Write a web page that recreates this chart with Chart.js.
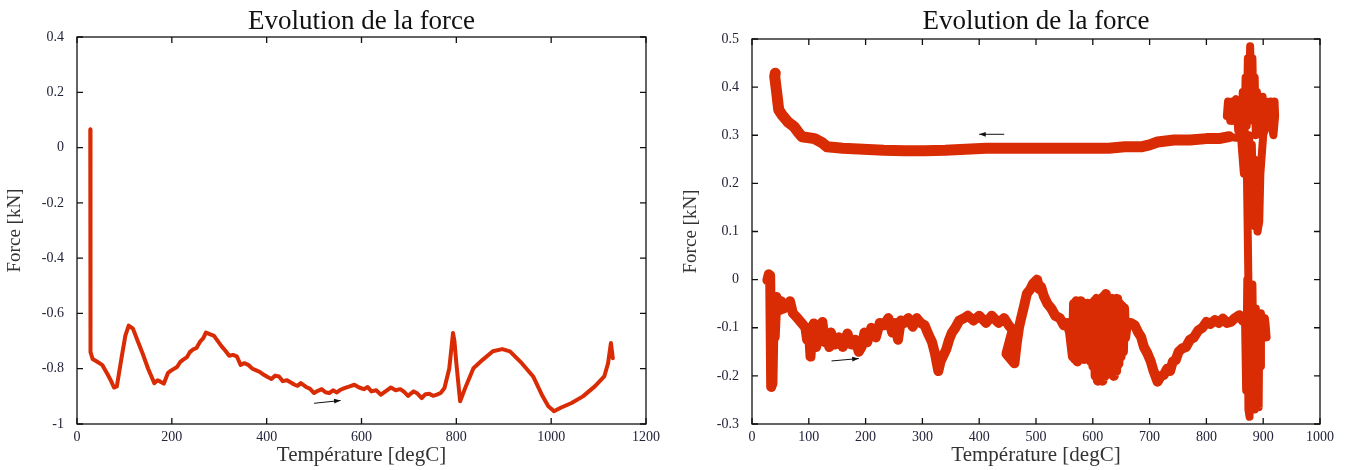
<!DOCTYPE html>
<html>
<head>
<meta charset="utf-8">
<script src="https://cdn.jsdelivr.net/npm/chart.js@4/dist/chart.umd.min.js"></script>
<style>
  html, body { margin: 0; padding: 0; background: #fff; }
  body { width: 1346px; height: 470px; position: relative; overflow: hidden; }
  canvas { position: absolute; top: 0; }
  #chart-left { left: 0; }
  #chart-right { left: 673px; }
</style>
</head>
<body>
<canvas id="chart-left" width="673" height="470"></canvas>
<canvas id="chart-right" width="673" height="470"></canvas>
<script>
// ── Data (temperature degC, force kN) ──
const TITLE = 'Evolution de la force';
const X_TITLE = 'Température [degC]';
const Y_TITLE = 'Force [kN]';

// left: heating run
const leftCurve = [
  [28, 0.065], [28, -0.70], [29, -0.74], [33, -0.765], [41, -0.773], [53, -0.786],
  [65, -0.822], [72, -0.845], [78, -0.868], [84, -0.864], [94, -0.76], [102, -0.68],
  [109, -0.644], [118, -0.655], [128, -0.70], [138, -0.743], [150, -0.80], [163, -0.852],
  [170, -0.842], [175, -0.846], [183, -0.854], [192, -0.815], [199, -0.806], [211, -0.794],
  [218, -0.775], [224, -0.767], [232, -0.758], [238, -0.74], [244, -0.731], [252, -0.725],
  [260, -0.701], [266, -0.69], [272, -0.669], [280, -0.675], [289, -0.681], [297, -0.70],
  [305, -0.719], [313, -0.735], [321, -0.753], [329, -0.75], [337, -0.755], [345, -0.786],
  [353, -0.78], [361, -0.786], [370, -0.80], [378, -0.806], [386, -0.812], [394, -0.822],
  [402, -0.83], [410, -0.837], [418, -0.825], [426, -0.828], [434, -0.845], [443, -0.842],
  [451, -0.85], [459, -0.858], [465, -0.862], [472, -0.852], [483, -0.866], [491, -0.872],
  [500, -0.888], [508, -0.88], [516, -0.874], [524, -0.885], [532, -0.888], [540, -0.878],
  [548, -0.886], [556, -0.876], [564, -0.870], [575, -0.864], [585, -0.858], [595, -0.868],
  [605, -0.874], [613, -0.866], [621, -0.882], [631, -0.878], [641, -0.894], [652, -0.88],
  [662, -0.868], [672, -0.878], [682, -0.874], [690, -0.884], [698, -0.898], [710, -0.882],
  [718, -0.89], [727, -0.906], [735, -0.892], [743, -0.891], [751, -0.898], [759, -0.894],
  [767, -0.888], [775, -0.870], [785, -0.80], [790, -0.72], [793, -0.671], [796, -0.70],
  [800, -0.78], [808, -0.918], [820, -0.864], [836, -0.798], [856, -0.767], [877, -0.737],
  [897, -0.729], [913, -0.737], [938, -0.780], [962, -0.828], [982, -0.900], [994, -0.936],
  [1006, -0.954], [1019, -0.942], [1043, -0.924], [1067, -0.900], [1092, -0.864], [1112, -0.828],
  [1120, -0.780], [1126, -0.707], [1130, -0.762]
];
const leftArrow = [[500, -0.925], [556, -0.915]];

// right: heating branch (lower)
const rightHeating = [
  [27, -0.001], [29.5, 0.011], [32, 0.009], [33.8, -0.223], [36, -0.216], [38, -0.077],
  [40, -0.119], [43, -0.036], [49, -0.063], [52, -0.045], [56, -0.06], [63, -0.055], [67, -0.045],
  [72, -0.07], [78, -0.077], [88, -0.091], [94, -0.10], [97, -0.125], [100, -0.10], [103, -0.16],
  [106, -0.10], [109, -0.091], [113, -0.14], [117, -0.10], [120, -0.12], [124, -0.088],
  [128, -0.13], [132, -0.115], [136, -0.14], [139, -0.11], [146, -0.135], [153, -0.12],
  [160, -0.14], [168, -0.112], [175, -0.135], [182, -0.125], [188, -0.15], [193, -0.14],
  [198, -0.11], [203, -0.13], [210, -0.10], [218, -0.12], [225, -0.09], [232, -0.095],
  [240, -0.08], [247, -0.11], [252, -0.09], [257, -0.125], [262, -0.085], [268, -0.09],
  [275, -0.08], [283, -0.098], [290, -0.08], [297, -0.09], [304, -0.095], [311, -0.115],
  [317, -0.13], [322, -0.153], [328, -0.19], [332, -0.17], [336, -0.16], [342, -0.145],
  [347, -0.125], [352, -0.11], [358, -0.10], [365, -0.085], [372, -0.081], [380, -0.075],
  [390, -0.085], [400, -0.075], [412, -0.09], [422, -0.075], [434, -0.09], [444, -0.08],
  [452, -0.095], [459, -0.105], [448, -0.154], [462, -0.174], [466, -0.133], [470, -0.10],
  [473, -0.084], [478, -0.06], [484, -0.029], [490, -0.02], [495, -0.008], [502, 0.0],
  [506, -0.02], [509, -0.015], [514, -0.035], [520, -0.05], [527, -0.06], [534, -0.075],
  [542, -0.08], [549, -0.095], [555, -0.09], [560, -0.11],
  [565, -0.16], [567, -0.05], [569, -0.165], [571, -0.045], [573, -0.17], [575, -0.05],
  [577, -0.16], [579, -0.045], [581, -0.155], [583, -0.05], [585, -0.165], [587, -0.06],
  [589, -0.15], [591, -0.05], [593, -0.16], [595, -0.055], [597, -0.17], [599, -0.05],
  [601, -0.18], [603, -0.045], [605, -0.2], [607, -0.04], [609, -0.21], [611, -0.045],
  [613, -0.205], [615, -0.04], [617, -0.21], [619, -0.035], [621, -0.2], [623, -0.03],
  [625, -0.195], [627, -0.04], [629, -0.19], [631, -0.045], [633, -0.18], [635, -0.04],
  [637, -0.2], [639, -0.045], [641, -0.19], [643, -0.04], [645, -0.175], [647, -0.05],
  [649, -0.16], [651, -0.055], [653, -0.15], [655, -0.06], [657, -0.12], [660, -0.09],
  [667, -0.09], [674, -0.095], [680, -0.11], [685, -0.119], [690, -0.14], [696, -0.153],
  [702, -0.17], [707, -0.19], [714, -0.212], [720, -0.20], [725, -0.198], [731, -0.185],
  [736, -0.19], [741, -0.17], [746, -0.167], [751, -0.15], [757, -0.143], [764, -0.14],
  [771, -0.125], [778, -0.12], [786, -0.105], [793, -0.10], [800, -0.088], [807, -0.092],
  [815, -0.084], [822, -0.09], [829, -0.081], [836, -0.09], [843, -0.088], [850, -0.08],
  [858, -0.074], [864, -0.085], [868, -0.081]
];
// right: unstable zone around 835-920
const rightTransition = [
  [868, -0.081], [870, -0.23], [872, 0.0], [874, -0.27], [876, -0.285], [877, -0.02],
  [879, -0.25], [881, -0.01], [883, -0.2], [885, -0.27], [887, -0.06], [889, -0.265],
  [890, -0.12], [892, -0.265], [893, -0.10], [895, -0.18], [896, -0.07], [899, -0.10],
  [903, -0.08], [906, -0.12], [904, -0.09], [900, -0.11], [880, -0.05], [877, -0.27],
  [871, 0.25], [866, 0.22], [862, 0.28], [858, 0.37], [856, 0.31], [853, 0.36], [850, 0.33],
  [846, 0.37], [842, 0.33], [838, 0.37], [836, 0.34], [840, 0.35], [845, 0.33], [849, 0.37],
  [852, 0.375], [856, 0.335], [860, 0.37], [862, 0.33], [864, 0.39], [867, 0.30], [869, 0.42],
  [871, 0.32], [873, 0.46], [875, 0.35], [877, 0.485], [879, 0.36], [881, 0.46], [883, 0.33],
  [885, 0.42], [887, 0.30], [889, 0.39], [891, 0.31], [893, 0.38], [896, 0.33], [899, 0.38],
  [902, 0.33], [905, 0.37], [909, 0.33], [913, 0.37], [917, 0.34], [920, 0.37], [921, 0.34],
  [918, 0.30], [910, 0.345], [900, 0.30], [895, 0.22], [893, 0.12], [890, 0.10], [888, 0.15],
  [886, 0.11], [884, 0.25], [882, 0.15], [880, 0.28], [878, 0.22], [875, 0.30], [872, 0.22],
  [869, 0.29], [865, 0.31], [860, 0.295], [850, 0.295], [840, 0.297]
];
// right: cooling branch (upper)
const rightCooling = [
  [840, 0.297], [822, 0.293], [800, 0.293], [771, 0.290], [743, 0.290], [714, 0.286],
  [700, 0.280], [685, 0.276], [656, 0.276], [628, 0.273], [599, 0.273], [556, 0.273],
  [520, 0.273], [484, 0.273], [448, 0.273], [412, 0.273], [376, 0.271], [340, 0.269],
  [304, 0.268], [268, 0.268], [232, 0.269], [196, 0.271], [160, 0.273], [132, 0.276],
  [124, 0.284], [110, 0.293], [88, 0.297], [81, 0.307], [74, 0.318], [63, 0.328],
  [53, 0.342], [47, 0.353], [44, 0.384], [40, 0.422], [41, 0.429]
];
const rightArrowCool = [[444, 0.302], [400, 0.302]];
const rightArrowHeat = [[140, -0.169], [188, -0.164]];

// ticks
const leftXTicks = [0, 200, 400, 600, 800, 1000, 1200];
const leftYTicks = [-1, -0.8, -0.6, -0.4, -0.2, 0, 0.2, 0.4];
const rightXTicks = [0, 100, 200, 300, 400, 500, 600, 700, 800, 900, 1000];
const rightYTicks = [-0.3, -0.2, -0.1, 0, 0.1, 0.2, 0.3, 0.4, 0.5];

// ── Style ──
const RED = '#d92b04';
const SERIF = "'Liberation Serif', 'DejaVu Serif', serif";
const TEXT = '#23233a';

// frame with inward ticks on all four sides + small direction arrows
const framePlugin = {
  id: 'frame',
  afterDatasetsDraw(chart, args, opts) {
    const { ctx, chartArea: a, scales: { x, y } } = chart;
    ctx.save();
    ctx.strokeStyle = '#111';
    ctx.lineWidth = 1.3;
    ctx.strokeRect(a.left, a.top, a.right - a.left, a.bottom - a.top);
    ctx.beginPath();
    x.ticks.forEach(t => {
      const px = x.getPixelForValue(t.value);
      ctx.moveTo(px, a.bottom); ctx.lineTo(px, a.bottom - 6);
      ctx.moveTo(px, a.top); ctx.lineTo(px, a.top + 6);
    });
    y.ticks.forEach(t => {
      const py = y.getPixelForValue(t.value);
      ctx.moveTo(a.left, py); ctx.lineTo(a.left + 6, py);
      ctx.moveTo(a.right, py); ctx.lineTo(a.right - 6, py);
    });
    ctx.stroke();

    (opts.arrows || []).forEach(([p0, p1]) => {
      const x0 = x.getPixelForValue(p0[0]), y0 = y.getPixelForValue(p0[1]);
      const x1 = x.getPixelForValue(p1[0]), y1 = y.getPixelForValue(p1[1]);
      const ang = Math.atan2(y1 - y0, x1 - x0);
      ctx.lineWidth = 1;
      ctx.beginPath();
      ctx.moveTo(x0, y0); ctx.lineTo(x1, y1);
      ctx.stroke();
      ctx.fillStyle = '#111';
      ctx.beginPath();
      ctx.moveTo(x1, y1);
      ctx.lineTo(x1 - 7 * Math.cos(ang - 0.35), y1 - 7 * Math.sin(ang - 0.35));
      ctx.lineTo(x1 - 7 * Math.cos(ang + 0.35), y1 - 7 * Math.sin(ang + 0.35));
      ctx.closePath();
      ctx.fill();
    });
    ctx.restore();
  }
};

function toPoints(pairs) {
  return pairs.map(([x, y]) => ({ x, y }));
}

function lineSet(pairs, width) {
  return {
    data: toPoints(pairs),
    showLine: true,
    borderColor: RED,
    backgroundColor: RED,
    borderWidth: width,
    pointRadius: 0,
    tension: 0,
    borderJoinStyle: 'round',
    borderCapStyle: 'round'
  };
}

function makeChart(id, cfg) {
  return new Chart(document.getElementById(id), {
    type: 'scatter',
    data: { datasets: cfg.datasets },
    plugins: [framePlugin],
    options: {
      responsive: false,
      animation: false,
      layout: { autoPadding: false, padding: { left: 0, right: cfg.padRight, top: 0, bottom: 0 } },
      plugins: {
        legend: { display: false },
        tooltip: { enabled: false },
        title: {
          display: true, text: TITLE, fullSize: false, color: '#111',
          font: { family: SERIF, size: 27, weight: 'normal' },
          padding: { top: 6, bottom: cfg.top - 6 - 32.4 }
        },
        frame: { arrows: cfg.arrows }
      },
      scales: {
        x: {
          type: 'linear', min: cfg.xTicks[0], max: cfg.xTicks[cfg.xTicks.length - 1],
          afterBuildTicks: s => { s.ticks = cfg.xTicks.map(v => ({ value: v })); },
          afterFit: s => { s.height = 46; },
          grid: { display: false, drawTicks: false },
          border: { display: false },
          ticks: { autoSkip: false, maxRotation: 0, padding: 5, color: TEXT,
                   font: { family: SERIF, size: 14 }, callback: v => String(v) },
          title: { display: true, text: X_TITLE, color: '#333',
                   font: { family: SERIF, size: 21 }, padding: { top: 0, bottom: 2 } }
        },
        y: {
          type: 'linear', min: cfg.yTicks[0], max: cfg.yTicks[cfg.yTicks.length - 1],
          afterBuildTicks: s => { s.ticks = cfg.yTicks.map(v => ({ value: v })); },
          afterFit: s => { s.width = cfg.left; },
          grid: { display: false, drawTicks: false },
          border: { display: false },
          ticks: { autoSkip: false, padding: 13, color: TEXT,
                   font: { family: SERIF, size: 14 }, callback: v => String(v) },
          title: { display: true, text: Y_TITLE, color: '#333',
                   font: { family: SERIF, size: 19 }, padding: { top: cfg.yTitlePad, bottom: 0 } }
        }
      }
    }
  });
}

// ── Charts ──
makeChart('chart-left', {
  datasets: [lineSet(leftCurve, 4)],
  xTicks: leftXTicks, yTicks: leftYTicks,
  left: 77, padRight: 27, top: 37, yTitlePad: 4,
  arrows: [leftArrow]
});

makeChart('chart-right', {
  datasets: [
    lineSet(rightHeating, 10),
    lineSet(rightTransition, 8),
    lineSet(rightCooling, 11)
  ],
  xTicks: rightXTicks, yTicks: rightYTicks,
  left: 79, padRight: 26, top: 39, yTitlePad: 7,
  arrows: [rightArrowCool, rightArrowHeat]
});
</script>
</body>
</html>
